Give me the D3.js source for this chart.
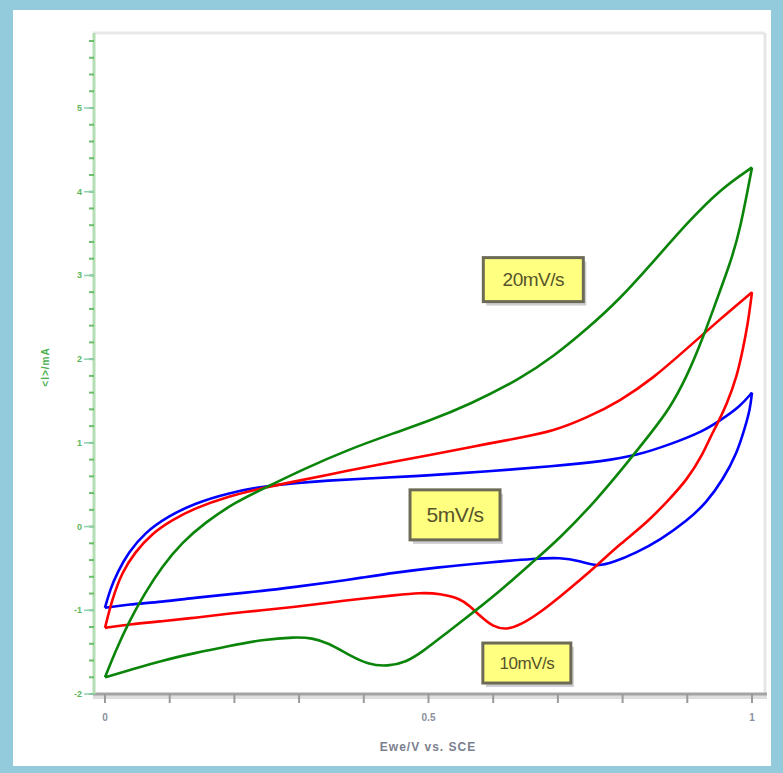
<!doctype html>
<html>
  <head>
    <script src="https://cdnjs.cloudflare.com/ajax/libs/d3/7.8.5/d3.min.js"></script>
    <style>
      body { margin: 0; background: #94cbdc; }
      svg { display: block; }
      .ytick text { font: bold 9px Arial, sans-serif; fill: #5cb85c; }
      .xtick text { font: bold 10px Arial, sans-serif; fill: #8a8f9c; }
      .note text { font-family: Arial, sans-serif; fill: #56532c; letter-spacing: -0.5px; }
    </style>
  </head>
  <body>
    <svg width="783" height="773"></svg>
    <script>
      // potential (V) and current (mA), forward and reverse scans
      var green20Fwd = [[0,-1.80],[0.015,-1.51],[0.036,-1.15],[0.062,-0.79],[0.088,-0.48],[0.119,-0.19],[0.155,0.05],
        [0.201,0.29],[0.252,0.48],[0.305,0.68],[0.376,0.92],[0.448,1.12],[0.5,1.26],[0.564,1.46],[0.641,1.76],
        [0.693,2.03],[0.745,2.36],[0.796,2.72],[0.847,3.16],[0.9,3.63],[0.951,4.03],[1.0,4.29]];
      var green20Rev = [[1.0,4.29],[0.981,3.52],[0.966,3.14],[0.946,2.72],[0.925,2.27],[0.9,1.8],[0.872,1.40],
        [0.845,1.13],[0.807,0.76],[0.760,0.32],[0.703,-0.14],[0.657,-0.45],[0.615,-0.74],[0.575,-0.99],[0.528,-1.27],
        [0.49,-1.50],[0.465,-1.62],[0.437,-1.67],[0.407,-1.65],[0.376,-1.53],[0.345,-1.39],[0.32,-1.33],[0.294,-1.32],
        [0.243,-1.35],[0.19,-1.43],[0.139,-1.51],[0.088,-1.60],[0.036,-1.72],[0,-1.80]];

      var red10Fwd = [[0,-1.21],[0.011,-0.87],[0.026,-0.55],[0.046,-0.31],[0.073,-0.08],[0.104,0.08],[0.139,0.22],
        [0.19,0.36],[0.243,0.46],[0.294,0.54],[0.345,0.62],[0.397,0.70],[0.448,0.78],[0.5,0.85],[0.564,0.95],
        [0.641,1.06],[0.693,1.14],[0.745,1.30],[0.796,1.50],[0.847,1.77],[0.9,2.13],[0.951,2.48],[1.0,2.80]];
      var red10Rev = [[1.0,2.80],[0.994,2.44],[0.986,2.12],[0.977,1.8],[0.961,1.46],[0.946,1.22],[0.935,1.06],
        [0.925,0.88],[0.9,0.56],[0.869,0.30],[0.838,0.05],[0.796,-0.21],[0.765,-0.43],[0.734,-0.64],[0.703,-0.84],
        [0.672,-1.03],[0.641,-1.18],[0.621,-1.23],[0.6,-1.2],[0.58,-1.07],[0.564,-0.95],[0.549,-0.86],[0.518,-0.8],
        [0.487,-0.79],[0.448,-0.82],[0.397,-0.86],[0.345,-0.91],[0.294,-0.96],[0.243,-1.0],[0.19,-1.04],
        [0.139,-1.09],[0.088,-1.13],[0.036,-1.17],[0,-1.21]];

      var blue5Fwd = [[0,-0.97],[0.008,-0.75],[0.019,-0.55],[0.036,-0.31],[0.062,-0.07],[0.097,0.12],[0.139,0.28],
        [0.19,0.40],[0.243,0.48],[0.294,0.52],[0.345,0.55],[0.397,0.57],[0.5,0.61],[0.59,0.66],[0.693,0.72],
        [0.77,0.78],[0.822,0.85],[0.873,0.98],[0.925,1.14],[0.951,1.27],[0.981,1.43],[1.0,1.60]];
      var blue5Rev = [[1.0,1.60],[0.997,1.40],[0.989,1.18],[0.977,0.88],[0.955,0.56],[0.93,0.29],[0.9,0.07],
        [0.858,-0.16],[0.822,-0.31],[0.785,-0.43],[0.76,-0.48],[0.734,-0.41],[0.703,-0.37],[0.668,-0.38],
        [0.59,-0.43],[0.51,-0.49],[0.448,-0.55],[0.397,-0.61],[0.345,-0.67],[0.294,-0.72],[0.243,-0.77],
        [0.19,-0.81],[0.139,-0.85],[0.088,-0.9],[0.036,-0.93],[0,-0.97]];

      var yTickLabels = [-2, -1, 0, 1, 2, 3, 4, 5];
      var xTickLabels = [0, 0.5, 1];

      var notes = [
        {label: "20mV/s", x: 0.662, y: 2.95, w: 100, h: 44, size: 19},
        {label: "5mV/s",  x: 0.541, y: 0.14, w: 90,  h: 50, size: 21},
        {label: "10mV/s", x: 0.652, y: -1.63, w: 88, h: 40, size: 17}
      ];

      var svg = d3.select("svg");

      // white panel
      svg.append("rect").attr("x", 13).attr("y", 10).attr("width", 758).attr("height", 756).attr("fill", "#fff");

      var x = d3.scaleLinear().domain([0, 1]).range([105, 752]);
      var y = d3.scaleLinear().domain([-2, 5]).range([694, 108]);
      var yTop = 33, xLeft = 93, xRight = 765;

      // frame top and right
      svg.append("line").attr("x1", xLeft).attr("x2", xRight).attr("y1", yTop).attr("y2", yTop)
        .attr("stroke", "#e8e8e8").attr("stroke-width", 3);
      svg.append("line").attr("x1", xRight).attr("x2", xRight).attr("y1", yTop).attr("y2", y(-2))
        .attr("stroke", "#e6e6e6").attr("stroke-width", 3);

      // x axis
      svg.append("rect").attr("x", xLeft).attr("y", y(-2) + 1).attr("width", xRight - xLeft + 2).attr("height", 4)
        .attr("fill", "#dedede");
      svg.append("line").attr("x1", xLeft).attr("x2", xRight + 2).attr("y1", y(-2)).attr("y2", y(-2))
        .attr("stroke", "#a3a3a3").attr("stroke-width", 3);
      var xt = svg.append("g").attr("class", "xtick");
      xt.selectAll("line").data(d3.range(0, 11).map(d => d / 10)).enter().append("line")
        .attr("x1", d => x(d)).attr("x2", d => x(d))
        .attr("y1", y(-2)).attr("y2", y(-2) + 9)
        .attr("stroke", "#9a9a9a").attr("stroke-width", 2);
      xt.selectAll("text").data(xTickLabels).enter().append("text")
        .attr("x", d => x(d)).attr("y", 721).attr("text-anchor", "middle").text(d => d);
      svg.append("text").attr("x", 428).attr("y", 751).attr("text-anchor", "middle")
        .style("font", "bold 12px Arial, sans-serif").style("letter-spacing", "1px")
        .attr("fill", "#7b808e").text("Ewe/V vs. SCE");

      // y axis
      svg.append("line").attr("x1", 94).attr("x2", 94).attr("y1", yTop).attr("y2", y(-2))
        .attr("stroke", "#b4dfb4").attr("stroke-width", 3);
      var yt = svg.append("g").attr("class", "ytick");
      yt.selectAll("line.minor").data(d3.range(-10, 30).map(d => d / 5)).enter().append("line")
        .attr("class", "minor")
        .attr("x1", 89).attr("x2", 94).attr("y1", d => y(d)).attr("y2", d => y(d))
        .attr("stroke", "#6cbd6c").attr("stroke-width", 2);
      yt.selectAll("line.major").data(yTickLabels).enter().append("line")
        .attr("class", "major")
        .attr("x1", 84).attr("x2", 94).attr("y1", d => y(d)).attr("y2", d => y(d))
        .attr("stroke", "#8fd0b0").attr("stroke-width", 1.5);
      yt.selectAll("text").data(yTickLabels).enter().append("text")
        .attr("x", 82).attr("y", d => y(d) + 3).attr("text-anchor", "end").text(d => d);
      svg.append("text").attr("transform", "translate(49,367) rotate(-90)").attr("text-anchor", "middle")
        .style("font", "bold 10px Arial, sans-serif").style("letter-spacing", "1px")
        .attr("fill", "#4caf50").text("<I>/mA");

      // curves
      var line = d3.line().x(d => x(d[0])).y(d => y(d[1])).curve(d3.curveBasis);
      var series = [
        [blue5Fwd, "#0000ff"], [blue5Rev, "#0000ff"],
        [red10Fwd, "#ff0000"], [red10Rev, "#ff0000"],
        [green20Fwd, "#0a850a"], [green20Rev, "#0a850a"]
      ];
      svg.selectAll("path.cv").data(series).enter().append("path")
        .attr("class", "cv")
        .attr("d", d => line(d[0]))
        .attr("fill", "none").attr("stroke", d => d[1]).attr("stroke-width", 2.6)
        .attr("stroke-linejoin", "round");

      // notes
      var g = svg.selectAll("g.note").data(notes).enter().append("g").attr("class", "note")
        .attr("transform", d => "translate(" + x(d.x) + "," + y(d.y) + ")");
      g.append("rect").attr("x", d => -d.w / 2 + 3).attr("y", d => -d.h / 2 + 4)
        .attr("width", d => d.w).attr("height", d => d.h).attr("fill", "#b9b9c0").attr("opacity", 0.7);
      g.append("rect").attr("x", d => -d.w / 2).attr("y", d => -d.h / 2)
        .attr("width", d => d.w).attr("height", d => d.h)
        .attr("fill", "#ffff80").attr("stroke", "#6d6b55").attr("stroke-width", 3);
      g.append("text").attr("text-anchor", "middle").attr("dy", "0.36em")
        .style("font-size", d => d.size + "px").text(d => d.label);
    </script>
  </body>
</html>
